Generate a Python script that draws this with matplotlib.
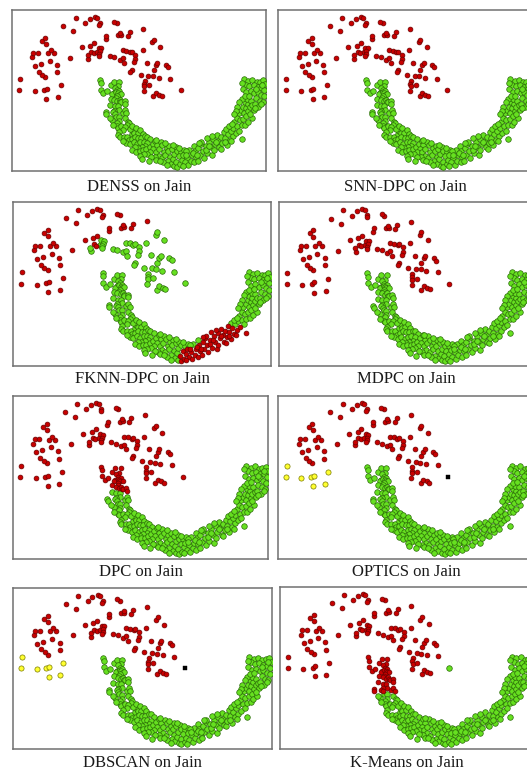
import matplotlib
matplotlib.use("Agg")
import matplotlib.pyplot as plt

# ---- Jain data set: upper crescent (97 points) ----
upper_x = [0.85, 0.75, 3.3, 5.25, 4.9, 5.35, 5.1, 4.6, 4.05, 3.4, 2.9, 3.1, 3.9, 4.4,
           7.2, 7.65, 7.1, 7.05, 5.85, 5.5, 6.55, 6.05, 5.2, 4.55, 5.1, 8.1, 10.15, 9.75,
           9.2, 11.2, 12.6, 13.25, 11.65, 12.45, 13.3, 13.7, 14.15, 14.05, 15.15, 15.2,
           12.2, 12.15, 12.75, 13.15, 13.75, 13.95, 14.4, 14.2, 14.1, 14.05,
           17.2, 17.7, 17.55, 17.0, 16.55, 19.15, 18.8, 21.4,
           15.8, 16.6, 17.45, 18.0, 18.25, 18.0, 18.6, 19.2, 19.45, 20.1, 20.1, 19.9,
           19.45, 19.25, 21.3, 22.9, 23.15, 24.25, 22.05, 20.95, 21.65, 21.55, 21.6,
           21.5, 22.4, 22.25, 23.15, 23.5, 23.75, 25.15, 25.5, 23.0, 23.95, 25.9,
           27.65, 23.1, 23.5, 24.05, 24.5]
upper_y = [17.45, 15.6, 15.45, 14.2, 15.65, 15.85, 17.9, 18.25, 18.75, 19.7, 21.15, 21.85, 21.85, 20.05,
           14.5, 16.5, 18.65, 19.9, 20.55, 21.8, 21.8, 22.3, 23.4, 23.9, 24.4, 26.35, 27.7, 25.5,
           21.1, 22.8, 23.1, 23.5, 26.85, 27.55, 27.85, 27.75, 26.9, 26.55, 24.2, 24.75,
           20.9, 21.45, 22.05, 21.85, 22.0, 22.7, 22.65, 22.15, 21.75, 21.4,
           24.8, 24.85, 25.2, 26.85, 27.1, 25.35, 24.7, 25.85,
           21.35, 21.15, 20.75, 20.95, 20.2, 22.3, 22.25, 21.95, 22.1, 21.6, 20.9, 20.35,
           19.05, 18.7, 22.3, 23.65, 24.1, 22.85, 20.25, 18.25, 17.25, 16.7, 16.3,
           15.5, 16.5, 18.1, 19.05, 19.8, 20.2, 19.8, 19.45, 18.0, 17.75, 17.55,
           15.65, 14.6, 15.2, 14.9, 14.7]

# ---- Jain data set: lower crescent, split into regions ----
arm_top_x = [14.15, 14.3, 14.3, 14.75, 15.35, 15.95, 16.5, 17.35, 17.15, 16.65, 16.5, 16.25,
             16.0, 17.0, 16.9, 17.35, 17.15, 17.3, 17.7, 17.0, 16.85, 16.6, 17.1, 17.45,
             17.6, 17.75, 18.3, 18.35]
arm_top_y = [17.35, 16.8, 15.75, 15.1, 15.5, 16.45, 17.05, 17.05, 16.3, 16.1, 15.15, 14.95,
             14.25, 15.65, 15.35, 15.45, 15.1, 14.9, 15.0, 14.6, 14.3, 14.05, 13.85, 14.05,
             13.7, 13.6, 13.8, 13.35]

arm_mid_x = [15.9, 16.65, 17.2, 17.3, 16.6, 16.4, 16.7, 18.05, 18.4, 18.6, 15.15, 15.2]
arm_mid_y = [13.2, 12.95, 13.0, 12.35, 12.2, 11.95, 11.7, 11.9, 12.3, 11.85, 12.05, 11.7]

arm_low_x = [16.85, 17.3, 17.3, 17.05, 16.95, 17.15, 17.75, 18.3, 18.8, 18.95, 18.7, 18.35,
             18.1, 17.4, 17.2, 17.5, 18.2, 18.75, 19.45, 19.7, 19.9, 16.2, 15.8, 16.3]
arm_low_y = [11.25, 11.2, 10.45, 10.1, 9.6, 9.35, 9.6, 10.95, 10.4, 10.2, 9.8, 9.5,
             9.05, 8.6, 8.15, 7.85, 7.85, 7.85, 8.35, 8.8, 8.45, 10.6, 11.0, 9.9]

bend_x = [19.15, 19.6, 20.2, 20.45, 20.9, 21.3, 19.0, 19.55, 20.05, 20.6, 21.1, 21.7,
          22.0, 22.6, 18.6, 19.2, 19.8, 20.35, 20.9, 21.45, 22.0, 21.7, 21.15, 20.55,
          19.95, 19.45, 20.15, 20.8, 21.35, 21.9, 22.45, 22.95, 23.4, 23.7, 23.1, 22.6,
          22.1, 21.5, 20.9, 23.55, 24.05, 23.95, 23.3, 22.7, 24.3, 23.6, 23.6, 18.1,
          24.6, 24.85, 24.5, 25.1, 25.3, 25.75, 25.6, 25.9, 25.45, 26.0, 26.35, 26.5,
          26.2, 26.8, 25.0, 26.3, 24.75, 25.35, 26.6, 27.0, 27.7, 28.2, 27.4, 29.1,
          29.8, 28.5, 24.2, 22.3, 21.2]
bend_y = [9.2, 9.7, 9.35, 8.55, 9.05, 8.4, 7.3, 7.55, 7.8, 7.7, 7.65, 7.95,
          7.9, 7.45, 6.9, 6.6, 6.95, 6.6, 6.95, 7.05, 6.85, 6.3, 6.15, 5.95,
          6.1, 5.75, 5.35, 5.5, 5.6, 5.8, 6.15, 6.7, 7.2, 6.45, 5.85, 5.35,
          5.05, 4.95, 4.75, 5.35, 5.85, 4.75, 4.45, 4.55, 7.05, 7.3, 4.0, 7.1,
          6.45, 5.4, 4.35, 4.9, 6.0, 6.4, 5.45, 4.55, 3.85, 3.4, 4.15, 5.0,
          5.9, 6.1, 6.8, 6.55, 3.6, 3.1, 3.05, 5.45, 5.35, 5.7, 5.95, 5.7,
          6.3, 5.45, 3.9, 3.85, 4.25]

bottom_x = [27.3, 26.9, 27.05, 27.6, 27.8, 28.05, 28.7, 28.3, 28.9, 29.3, 29.5, 30.2,
            29.9, 30.5, 30.8, 30.0, 30.6, 31.0, 27.95, 31.3, 31.5, 31.8, 32.1, 32.4,
            32.0, 32.7, 32.9, 33.2, 33.4, 33.1, 33.7, 33.9, 34.1, 34.4, 34.6, 34.3,
            34.8, 35.0, 35.3, 35.5, 35.8, 36.3, 31.1, 32.8, 30.7, 36.1, 37.8, 36.8,
            28.6, 29.7, 31.9, 33.6, 35.0, 32.3, 30.3]
bottom_y = [4.6, 3.75, 2.9, 3.3, 4.05, 4.8, 4.4, 3.6, 3.25, 3.9, 4.8, 4.55,
            3.6, 3.9, 4.9, 5.5, 6.0, 6.7, 3.0, 5.5, 4.4, 6.3, 5.1, 7.0,
            7.6, 6.1, 4.8, 5.6, 6.6, 7.5, 8.2, 7.2, 6.1, 5.9, 6.8, 7.8,
            8.6, 7.6, 6.5, 8.3, 7.4, 7.95, 7.0, 8.0, 6.9, 7.1, 7.5, 8.5,
            4.9, 5.2, 5.7, 7.0, 7.0, 6.3, 4.9]

right_arm_x = [35.2, 36.0, 36.4, 36.6, 37.1, 37.4, 37.0, 37.5, 37.8, 38.1, 38.4, 37.3,
               37.7, 38.2, 38.6, 38.0, 38.5, 38.9, 38.3, 38.8, 39.2, 38.7, 39.3, 39.6,
               35.7, 38.85, 36.2, 38.2, 38.9, 39.6, 40.3, 40.85, 41.4, 41.7, 38.5, 39.1,
               39.8, 40.5, 41.1, 41.6, 38.0, 38.6, 39.3, 39.9, 40.5, 41.0, 41.5, 37.8,
               38.3, 40.2, 40.8, 41.3, 37.4, 40.0, 40.6, 41.1, 39.8, 40.1, 37.0, 36.8,
               39.5, 39.2, 40.2, 41.2, 39.0, 37.9, 36.5]
right_arm_y = [9.2, 8.9, 9.4, 10.3, 9.6, 8.9, 11.0, 10.6, 9.8, 10.9, 9.9, 11.8,
               12.3, 11.8, 11.3, 12.9, 12.6, 12.1, 13.6, 13.3, 12.8, 14.1, 13.9, 13.2,
               9.6, 10.4, 10.0, 17.5, 17.2, 17.4, 17.0, 17.1, 17.3, 16.7, 16.6, 16.3,
               16.5, 16.2, 16.05, 15.7, 15.8, 15.3, 15.55, 15.1, 15.4, 14.9, 14.6, 14.2,
               14.6, 14.3, 13.9, 13.6, 13.7, 13.3, 12.9, 13.3, 12.3, 12.6, 12.9, 12.2,
               11.0, 11.6, 15.85, 16.6, 14.75, 16.9, 11.6]

LOWER = {
    "arm_top": (arm_top_x, arm_top_y),
    "arm_mid": (arm_mid_x, arm_mid_y),
    "arm_low": (arm_low_x, arm_low_y),
    "bend": (bend_x, bend_y),
    "bottom": (bottom_x, bottom_y),
    "right_arm": (right_arm_x, right_arm_y),
}

# per-method deviations from the two natural clusters
FKNN_UPPER_GREEN = [40, 41, 44, 45, 46, 47, 48, 49] + list(range(58, 92)) + [92, 93, 94, 95, 96]
SMALL_LEFT = [0, 1, 2, 3, 4, 5, 14, 15]
OUTLIER = [92]

PANELS = [
    dict(title="DENSS on Jain"),
    dict(title="SNN-DPC on Jain"),
    dict(title="FKNN-DPC on Jain", upper_green=FKNN_UPPER_GREEN, lower_red=["bottom"]),
    dict(title="MDPC on Jain"),
    dict(title="DPC on Jain", lower_red=["arm_top"]),
    dict(title="OPTICS on Jain", upper_yellow=SMALL_LEFT, upper_noise=OUTLIER),
    dict(title="DBSCAN on Jain", upper_yellow=SMALL_LEFT, upper_noise=OUTLIER),
    dict(title="K-Means on Jain", upper_green=OUTLIER, lower_red=["arm_top", "arm_mid"]),
]

# axes boxes in pixels (left, top, right, bottom) and title centres
BOXES = [
    (11.7, 9.7, 266.0, 171.3), (278.0, 9.7, 532.3, 171.3),
    (13.3, 201.7, 271.0, 365.7), (279.0, 202.0, 534.0, 366.0),
    (12.7, 395.7, 268.3, 558.7), (278.3, 395.7, 534.0, 558.7),
    (13.3, 587.7, 271.7, 749.0), (280.0, 587.0, 534.0, 749.0),
]
TITLE_Y = [187, 187, 379, 379, 572, 572, 763, 763]

W, H = 527, 770
STYLE = {
    "r": dict(c="#c80000", edgecolors="#6a0000", s=12, linewidths=0.5, marker="o"),
    "g": dict(c="#66e020", edgecolors="#2a6a08", s=16, linewidths=0.5, marker="o"),
    "y": dict(c="#ffff30", edgecolors="#7a7a00", s=14, linewidths=0.5, marker="o"),
    "k": dict(c="#000000", edgecolors="#000000", s=6, linewidths=0.3, marker="s"),
}

fig = plt.figure(figsize=(W / 100, H / 100), dpi=100)
fig.patch.set_facecolor("white")

for spec, box, ty in zip(PANELS, BOXES, TITLE_Y):
    x0, y0, x1, y1 = box
    ax = fig.add_axes([x0 / W, 1 - y1 / H, (x1 - x0) / W, (y1 - y0) / H])
    ax.set_xlim(-0.53, 41.85)
    ax.set_ylim(2.13, 29.07)
    ax.set_xticks([])
    ax.set_yticks([])
    for sp in ax.spines.values():
        sp.set_color("#707070")
        sp.set_linewidth(1.1)

    groups = {"r": ([], []), "g": ([], []), "y": ([], []), "k": ([], [])}
    # upper crescent
    for i, (px, py) in enumerate(zip(upper_x, upper_y)):
        lab = "r"
        if i in spec.get("upper_green", []):
            lab = "g"
        if i in spec.get("upper_yellow", []):
            lab = "y"
        if i in spec.get("upper_noise", []):
            lab = "k"
        groups[lab][0].append(px)
        groups[lab][1].append(py)
    # lower crescent
    for name, (xs, ys) in LOWER.items():
        lab = "r" if name in spec.get("lower_red", []) else "g"
        groups[lab][0].extend(xs)
        groups[lab][1].extend(ys)

    for lab in ["g", "r", "y", "k"]:
        xs, ys = groups[lab]
        if xs:
            ax.scatter(xs, ys, zorder=3, **STYLE[lab])

    fig.text(((x0 + x1) / 2) / W, 1 - ty / H, spec["title"], ha="center", va="center",
             fontsize=12, family=["Liberation Serif", "DejaVu Serif"], color="#1a1a1a")

fig.savefig("out.png", dpi=100, facecolor="white")
